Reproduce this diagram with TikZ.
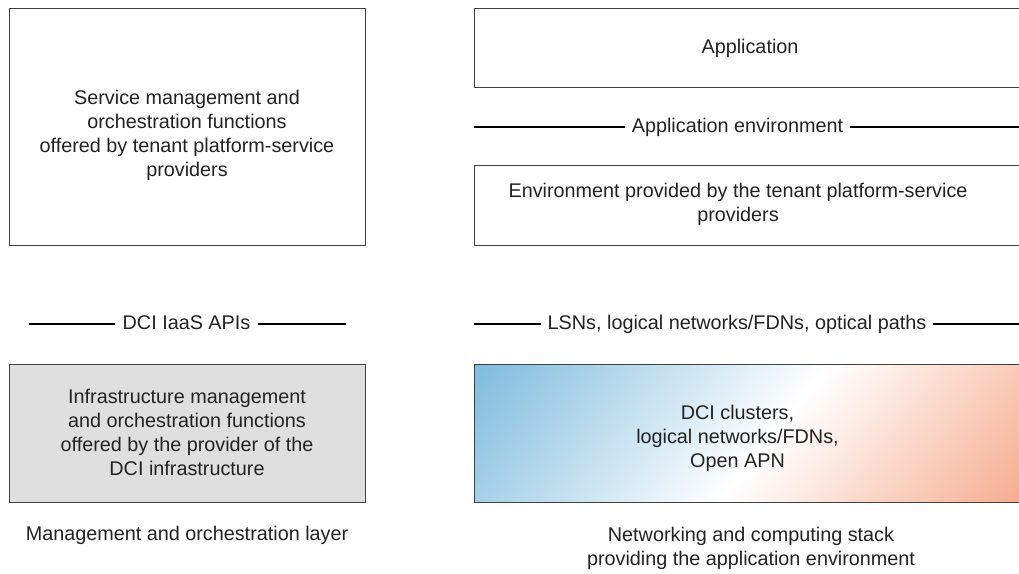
\documentclass[tikz,border=0pt]{standalone}
\usepackage{fontspec}
\setmainfont{Liberation Sans}
\definecolor{inkc}{HTML}{222222}
\definecolor{framec}{HTML}{404040}
\definecolor{grayfill}{HTML}{E0DFE0}
\definecolor{skyc}{HTML}{7DBBDD}
\definecolor{salmonc}{RGB}{244,157,122}
\begin{document}
\begin{tikzpicture}[x=1pt,y=1pt,
  every node/.style={font=\fontsize{19.8}{24}\selectfont, text=inkc},
  frame/.style={draw=framec, line width=1pt, inner sep=0pt},
  label/.style={align=center, inner sep=0pt},
  tag/.style={inner xsep=7pt, inner ysep=0pt, text height=14pt, text depth=4pt},
  rule/.style={draw=black, line width=1.4pt}]
\useasboundingbox (0,0) rectangle (1019,-573);

% ---- left column: management and orchestration layer
\node[frame, minimum width=356pt, minimum height=237pt] (svc) at (187,-126.5) {};
\node[label] (svctxt) at (187,-135) {Service management and\\orchestration functions\\offered by tenant platform-service\\providers};

\node[tag] (iaas) at (186.5,-324) {DCI IaaS APIs};
\coordinate (iaasL) at (29,-324);
\coordinate (iaasR) at (346,-324);
\draw[rule] (iaasL) -- (iaas.west);
\draw[rule] (iaas.east) -- (iaasR);

\node[frame, fill=grayfill, minimum width=356pt, minimum height=138pt] (infra) at (187,-433) {};
\node[label] (infratxt) at (187,-432) {Infrastructure management\\and orchestration functions\\offered by the provider of the\\DCI infrastructure};

\node[label] (mgmt) at (187,-535) {Management and orchestration layer};

% ---- right column: networking and computing stack
\node[frame, minimum width=550pt, minimum height=79pt] (app) at (749,-47.5) {};
\node[label] (apptxt) at (750,-48) {Application};

\node[tag] (appenv) at (737.5,-127) {Application environment};
\coordinate (appenvL) at (474,-127);
\coordinate (appenvR) at (1024,-127);
\draw[rule] (appenvL) -- (appenv.west);
\draw[rule] (appenv.east) -- (appenvR);

\node[frame, minimum width=550pt, minimum height=80pt] (env) at (749,-205) {};
\node[label] (envtxt) at (738,-204) {Environment provided by the tenant platform-service\\providers};

\node[tag] (lsn) at (737,-324) {LSNs, logical networks/FDNs, optical paths};
\coordinate (lsnL) at (474,-324);
\coordinate (lsnR) at (1024,-324);
\draw[rule] (lsnL) -- (lsn.west);
\draw[rule] (lsn.east) -- (lsnR);

% diagonal blue-white-salmon gradient of the cluster box
\begin{scope}
  \clip (474,-364) rectangle (1024,-502);
  \begin{scope}[transform canvas={rotate around={-38.55:(746.5,-433)}}]
    \shade[left color=skyc, right color=salmonc, middle color=white]
      (490.5,-673) rectangle (1047.1,-193);
  \end{scope}
\end{scope}
\node[frame, minimum width=550pt, minimum height=138pt] (dci) at (749,-433) {};
\node[label] (dcitxt) at (737.5,-438) {DCI clusters,\\logical networks/FDNs,\\Open APN};

\node[label] (stack) at (751,-548) {Networking and computing stack\\providing the application environment};
\end{tikzpicture}
\end{document}
